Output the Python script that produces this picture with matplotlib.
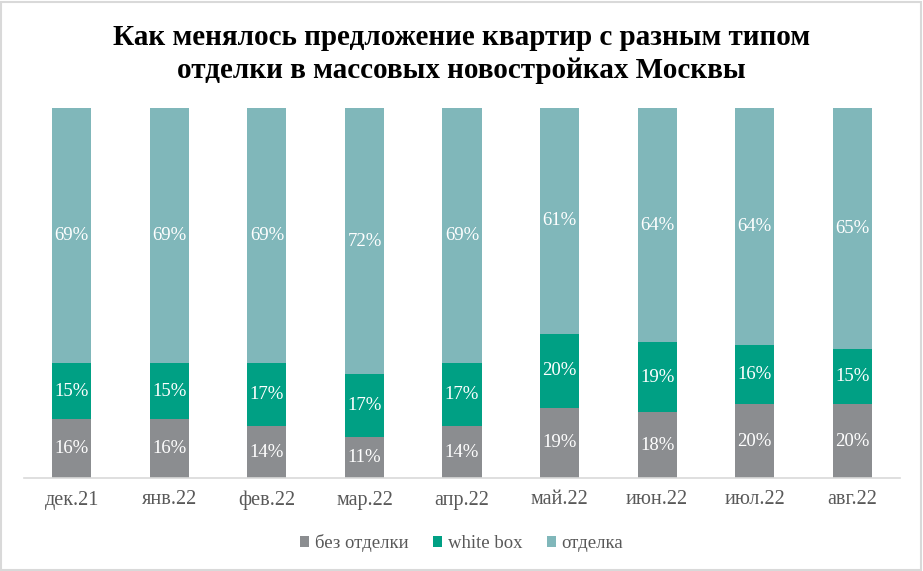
import matplotlib.pyplot as plt
import numpy as np
from matplotlib.patches import Rectangle

plt.rcParams["font.family"] = ["Liberation Serif", "DejaVu Serif"]

# Data
months = ["дек.21", "янв.22", "фев.22", "мар.22", "апр.22",
          "май.22", "июн.22", "июл.22", "авг.22"]
no_finish = [16, 16, 14, 11, 14, 19, 18, 20, 20]
white_box = [15, 15, 17, 17, 17, 20, 19, 16, 15]
finish = [69, 69, 69, 72, 69, 61, 64, 64, 65]

series_names = ["без отделки", "white box", "отделка"]
colors = ["#8b8d90", "#00a084", "#80b7ba"]

fig = plt.figure(figsize=(9.23, 5.71), dpi=100)
ax = fig.add_axes([24 / 923, 93 / 571, 876 / 923, 370 / 571])

x = np.arange(len(months))
data = np.array([no_finish, white_box, finish], dtype=float)
totals = data.sum(axis=0)
shares = data / totals * 100

bottom = np.zeros(len(months))
for vals, raw, name, color in zip(shares, data, series_names, colors):
    ax.bar(x, vals, width=0.4, bottom=bottom, color=color, label=name)
    for xi, b, v, r in zip(x, bottom, vals, raw):
        ax.text(xi, b + v / 2, f"{int(r)}%", ha="center", va="center",
                color="white", fontsize=13.5)
    bottom += vals

ax.set_xlim(-0.49, 8.49)
ax.set_ylim(0, 100)
ax.set_yticks([])
ax.set_xticks(x)
ax.set_xticklabels(months, fontsize=14.5, color="#595959")
ax.tick_params(axis="x", length=0, pad=9)
for side in ["top", "right", "left"]:
    ax.spines[side].set_visible(False)
ax.spines["bottom"].set_color("#d9d9d9")
ax.spines["bottom"].set_linewidth(1.2)

fig.text(0.5, 0.905, "Как менялось предложение квартир с разным типом\n"
         "отделки в массовых новостройках Москвы",
         ha="center", va="center", fontsize=21, fontweight="bold",
         linespacing=1.3)

fig.legend(loc="center", bbox_to_anchor=(0.5, 28 / 571), ncol=3,
           frameon=False, fontsize=13.5, handlelength=0.5, handleheight=0.5,
           handletextpad=0.3, columnspacing=1.3, labelcolor="#595959")

# Light frame around the figure
fig.patches.append(Rectangle((0.001, 0.002), 0.997, 0.995, transform=fig.transFigure,
                             fill=False, edgecolor="#d9d9d9", linewidth=1.5))

fig.savefig("out.png", dpi=100)
